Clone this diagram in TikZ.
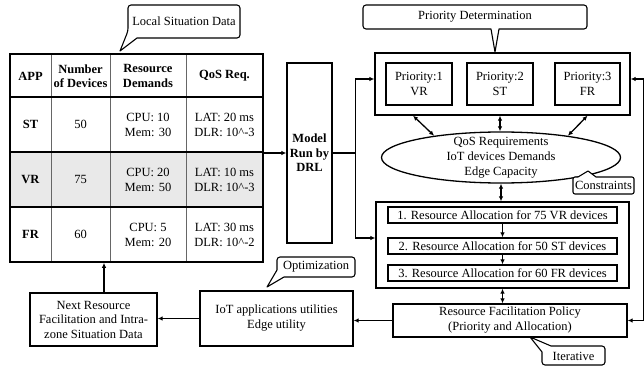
\documentclass[tikz,border=0pt]{standalone}
\usepackage{fontspec}
\setmainfont{Liberation Serif}
\usetikzlibrary{arrows.meta,shapes.geometric,calc}

\begin{document}
\begin{tikzpicture}[x=1pt,y=-1pt,
  font=\fontsize{12.5}{15}\selectfont,
  bold/.style={font=\fontsize{12.5}{14.5}\selectfont\bfseries},
  box/.style={draw,line width=1.3pt,inner sep=0pt,align=center},
  arr/.style={line width=1.3pt,-{Latex[length=5pt,width=4.5pt]}},
  darr/.style={line width=1.3pt,{Latex[length=5pt,width=4.5pt]}-{Latex[length=5pt,width=4.5pt]}},
  callout/.style={draw,line width=1.1pt,fill=white,line join=round},
  lbl/.style={inner sep=0pt,align=center},
  rowline/.style={line width=1.2pt},
  colline/.style={line width=1pt,black!60},
]
\useasboundingbox (0,0) rectangle (644,366);

% ---------- situation table ----------
\fill[gray!17] (10,152) rectangle (263,207);
\draw[colline] (51,54) -- (51,262) (110,54) -- (110,262) (186,54) -- (186,262);
\draw[rowline] (10,97) -- (263,97) (10,152) -- (263,152) (10,207) -- (263,207);
\node[draw,line width=1.6pt,minimum width=253pt,minimum height=208pt,inner sep=0pt] (tab) at (136.5,158) {};

\node[lbl,bold] (hApp) at (30.5,76) {APP};
\node[lbl,bold] (hNum) at (80.5,76) {Number\\of Devices};
\node[lbl,bold] (hRes) at (148,76) {Resource\\Demands};
\node[lbl,bold] (hQos) at (224.5,76) {QoS Req.};

\node[lbl,bold] (stA) at (30.5,124.5) {ST};
\node[lbl] (stN) at (80.5,124.5) {50};
\node[lbl] (stR) at (148,124.5) {CPU: 10\\Mem: 30};
\node[lbl] (stQ) at (224.5,124.5) {LAT: 20 ms\\DLR: 10\^{}-3};

\node[lbl,bold] (vrA) at (30.5,179.5) {VR};
\node[lbl] (vrN) at (80.5,179.5) {75};
\node[lbl] (vrR) at (148,179.5) {CPU: 20\\Mem: 50};
\node[lbl] (vrQ) at (224.5,179.5) {LAT: 10 ms\\DLR: 10\^{}-3};

\node[lbl,bold] (frA) at (30.5,234.5) {FR};
\node[lbl] (frN) at (80.5,234.5) {60};
\node[lbl] (frR) at (148,234.5) {CPU: 5\\Mem: 20};
\node[lbl] (frQ) at (224.5,234.5) {LAT: 30 ms\\DLR: 10\^{}-2};

% ---------- model ----------
\node[box,bold,minimum width=45pt,minimum height=180pt] (model) at (309.5,153) {Model\\Run by\\DRL};

% ---------- priority determination ----------
\node[box,minimum width=255pt,minimum height=62pt] (pri) at (502.5,84) {};
\node[box,minimum width=66pt,minimum height=42pt] (p1) at (419,84) {Priority:1\\VR};
\node[box,minimum width=66pt,minimum height=42pt] (p2) at (500,84) {Priority:2\\ST};
\node[box,minimum width=65pt,minimum height=42pt] (p3) at (587.5,84) {Priority:3\\FR};

% ---------- constraints ellipse ----------
\node[draw,ellipse,line width=1.3pt,minimum width=239pt,minimum height=51pt,inner sep=0pt] (ell) at (501,157.5) {};
\node[lbl] (ellt) at (ell) {QoS Requirements\\IoT devices Demands\\Edge Capacity};

% ---------- resource allocation ----------
\node[box,minimum width=253pt,minimum height=86pt] (alloc) at (502.5,245) {};
\node[box,minimum width=229pt,minimum height=16pt] (a1) at (502.5,215) {1. Resource Allocation for 75 VR devices};
\node[box,minimum width=229pt,minimum height=16pt] (a2) at (502.5,246) {2. Resource Allocation for 50 ST devices};
\node[box,minimum width=229pt,minimum height=16pt] (a3) at (502.5,273) {3. Resource Allocation for 60 FR devices};

% ---------- lower row ----------
\node[box,minimum width=234pt,minimum height=33pt] (pol) at (510,320.5) {Resource Facilitation Policy\\(Priority and Allocation)};
\node[box,minimum width=153pt,minimum height=55pt] (iot) at (276.5,318.5) {IoT applications utilities\\Edge utility};
\node[box,minimum width=127pt,minimum height=53pt,font=\fontsize{12.5}{14.5}\selectfont] (nxt) at (93.5,319.5) {Next Resource\\Facilitation and Intra-\\zone Situation Data};

% ---------- connectors ----------
\draw[arr] (tab.east |- model.west) -- (model.west);
\coordinate (j) at ($(model.east)+(23,0)$);
\draw[arr] (model.east) -- (j) |- ([yshift=5pt]pri.west);
\draw[arr] (j) |- ([yshift=7pt]alloc.west);

\draw[darr] ($(p1.south |- pri.south)+(-6,0)$) -- (ell.162);
\draw[darr] (p2.south |- pri.south) -- (p2.south |- ell.north);
\draw[darr] (p3.south |- pri.south) -- (ell.18);
\draw[darr] (ell.south) -- (ell.south |- alloc.north);

\draw[arr] (a1.south) -- (a2.north);
\draw[arr] (a2.south) -- (a3.north);
\draw[darr] (alloc.south) -- (alloc.south |- pol.north);

\draw[arr] (pol.west) -- (pol.west -| iot.east);
\draw[arr] (iot.west) -- (iot.west -| nxt.east);
\coordinate (u) at ($(nxt.north)+(10.5,0)$);
\draw[arr] (u) -- (u |- tab.south);

\draw[darr] ([yshift=5pt]pri.east) -- ++(13,0) |- (pol.east);

% ---------- callouts ----------
\draw[callout] (137,38) [rounded corners=3pt] -- (240,38) -- (240,5) -- (128,5) -- (128,31) [sharp corners] -- (120,51) -- cycle;
\node[lbl] (cLocal) at (184,21.5) {Local Situation Data};

\draw[callout] (499,29) [rounded corners=3pt] -- (587,29) -- (587,5) -- (363,5) -- (363,29) [sharp corners] -- (491,29) -- (495,52) -- cycle;
\node[lbl] (cPrio) at (475,17) {Priority Determination};

\draw[callout] (578,177) [rounded corners=2pt] -- (573,177) -- (573,194) -- (634,194) -- (634,177) [sharp corners] -- (596,177) -- (588,171) -- cycle;
\node[lbl] (cCons) at (603.5,185.5) {Constraints};

\draw[callout] (542,352) [rounded corners=3pt] -- (542,365) -- (605,365) -- (605,346) [sharp corners] -- (551,346) -- (530,337) -- cycle;
\node[lbl] (cIter) at (573.5,356) {Iterative};

\draw[callout] (277,270) [rounded corners=3pt] -- (277,257) -- (355,257) -- (355,277) [sharp corners] -- (284,277) -- (267,287) -- cycle;
\node[lbl] (cOpt) at (316,267) {Optimization};
\end{tikzpicture}
\end{document}
